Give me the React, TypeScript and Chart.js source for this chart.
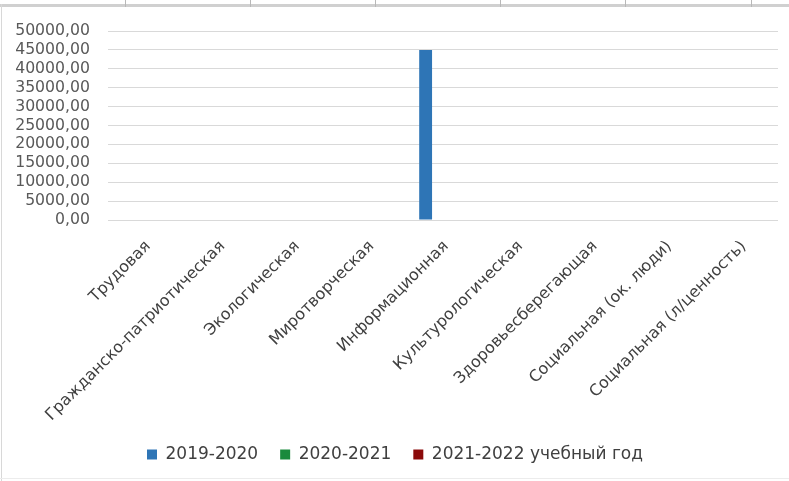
import React, { useEffect, useRef } from "react";
import { Chart, registerables } from "chart.js";

Chart.register(...registerables);

const categories = [
  "Трудовая",
  "Гражданско-патриотическая",
  "Экологическая",
  "Миротворческая",
  "Информационная",
  "Культурологическая",
  "Здоровьесберегающая",
  "Социальная (ок. люди)",
  "Социальная (л/ценность)",
];

const seriesNames = ["2019-2020", "2020-2021", "2021-2022 учебный год"];
const values2019 = [0, 0, 0, 0, 45000, 0, 0, 0, 0];
const values2020 = [0, 0, 0, 0, 0, 0, 0, 0, 0];
const values2021 = [0, 0, 0, 0, 0, 0, 0, 0, 0];

const yMin = 0;
const yMax = 50000;
const yStep = 5000;

const FONT = "'DejaVu Sans', sans-serif";
const LEGEND_PAD = 22;
const BOTTOM_PAD = 8;
const LEFT_PAD = 12;

export default function App() {
  const ref = useRef<HTMLCanvasElement | null>(null);

  useEffect(() => {
    if (!ref.current) return;
    const chart = new Chart(ref.current, {
      type: "bar",
      data: {
        labels: categories,
        datasets: [
          { label: seriesNames[0], data: values2019, backgroundColor: "#2E75B6" },
          { label: seriesNames[1], data: values2020, backgroundColor: "#1A8A3C" },
          { label: seriesNames[2], data: values2021, backgroundColor: "#8B0A0A" },
        ],
      },
      options: {
        animation: false,
        responsive: false,
        maintainAspectRatio: false,
        categoryPercentage: 0.7,
        barPercentage: 0.74,
        layout: { padding: { left: LEFT_PAD, right: 11, top: 31, bottom: BOTTOM_PAD } },
        plugins: {
          legend: {
            position: "bottom",
            labels: {
              boxWidth: 10,
              boxHeight: 10,
              padding: LEGEND_PAD,
              color: "#404040",
              font: { family: FONT, size: 17 },
            },
          },
          tooltip: { enabled: false },
        },
        scales: {
          x: {
            grid: { display: false, drawTicks: false },
            border: { display: false },
            ticks: {
              minRotation: 45,
              maxRotation: 45,
              autoSkip: false,
              padding: 17,
              labelOffset: 3,
              color: "#404040",
              font: { family: FONT, size: 16 },
            },
            afterFit: (s: any) => {
              s.height = 481 - BOTTOM_PAD - (17 + LEGEND_PAD + 10) - 220;
            },
          },
          y: {
            min: yMin,
            max: yMax,
            ticks: {
              stepSize: yStep,
              autoSkip: false,
              padding: 18,
              color: "#595959",
              font: { family: FONT, size: 15.7 },
              callback: (v: any) => Number(v).toFixed(2).replace(".", ","),
            },
            grid: { color: "#d9d9d9", drawTicks: false },
            border: { display: false },
            afterFit: (s: any) => {
              s.width = 108 - LEFT_PAD;
            },
          },
        },
      },
    });
    return () => chart.destroy();
  }, []);

  const topTicks = [125, 250, 375, 500, 625, 751];

  return (
    <div style={{ position: "fixed", left: 0, top: 0, width: 789, height: 481, background: "#fff" }}>
      <canvas ref={ref} width={789} height={481} style={{ display: "block", position: "absolute", left: 0, top: 0 }} />
      <div style={{ position: "absolute", left: 0, top: 4, width: 789, height: 3, background: "#d0d0d0" }} />
      {topTicks.map((x) => (
        <div key={x} style={{ position: "absolute", left: x, top: 0, width: 1, height: 7, background: "#b8b8b8" }} />
      ))}
      <div style={{ position: "absolute", left: 1, top: 4, width: 1, height: 477, background: "#d8d8d8" }} />
      <div style={{ position: "absolute", left: 0, top: 478, width: 789, height: 1, background: "#ececec" }} />
    </div>
  );
}
